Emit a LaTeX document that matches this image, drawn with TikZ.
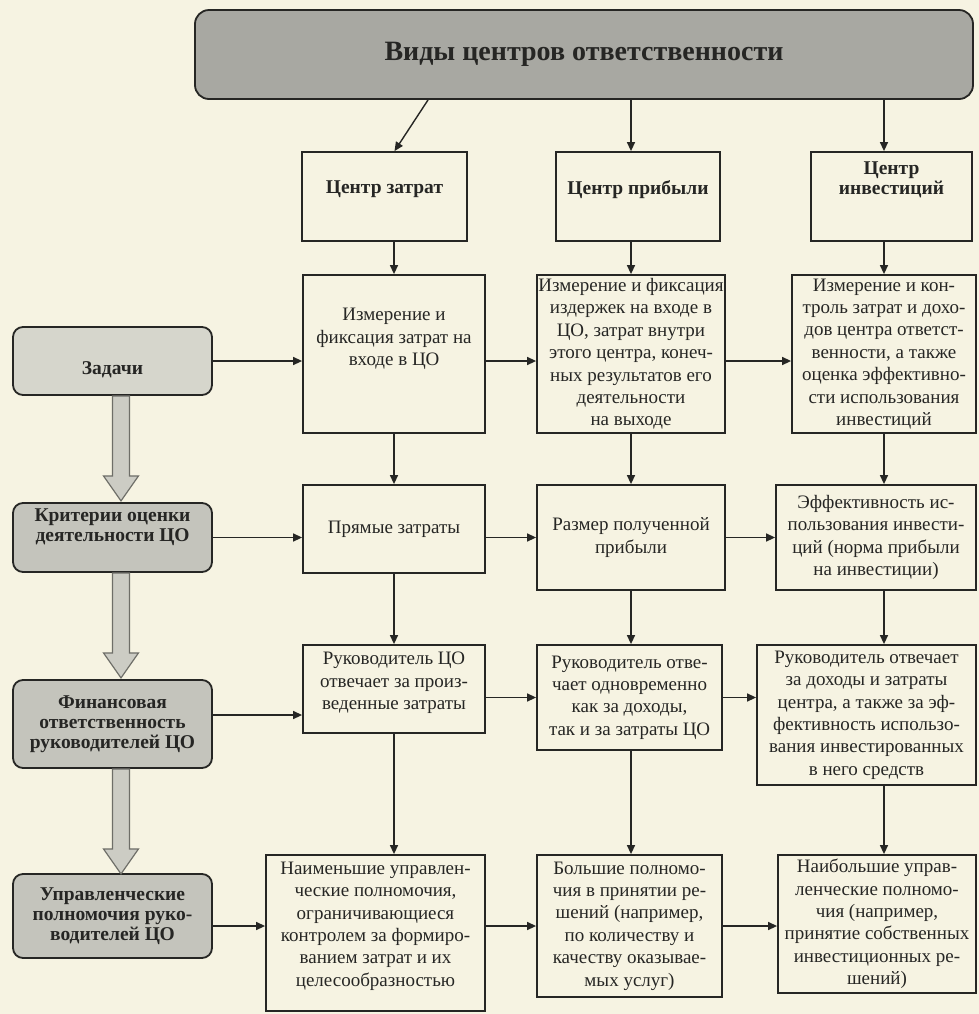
\documentclass[tikz,border=0pt]{standalone}
\usepackage{fontspec}
\setmainfont{Liberation Serif}
\usetikzlibrary{calc,arrows.meta}
\definecolor{paper}{RGB}{246,243,226}
\definecolor{ink}{RGB}{38,38,36}
\definecolor{titlegray}{RGB}{168,168,162}
\definecolor{sidegray}{RGB}{196,196,188}
\definecolor{sidelight}{RGB}{214,214,204}
\definecolor{arrowgray}{RGB}{204,204,196}
\definecolor{arrowedge}{RGB}{110,110,104}
\begin{document}
\begin{tikzpicture}[x=0.5pt,y=-0.5pt,
	  corners/.style n args={4}{at={({(#1+#3)/2},{(#2+#4)/2})}, minimum width={(#3-#1)*0.5pt}, minimum height={(#4-#2)*0.5pt}},
	  box/.style={draw=ink, line width=0.9pt, inner sep=0pt, align=center, text=ink, font=\fontsize{9.5pt}{11.2pt}\selectfont},
	  headbox/.style={box, font=\fontsize{9.75pt}{10pt}\selectfont\bfseries},
	  sidebox/.style={headbox, rounded corners=5pt, fill=sidegray},
	  arr/.style={draw=ink, line width=0.7pt, -{Triangle[length=4.5pt,width=4pt]}},
	  blockarr/.style={draw=arrowedge, fill=arrowgray, line width=0.6pt}]
	  \fill[paper] (0,0) rectangle (979,1014);

	  \node[headbox, fill=titlegray, rounded corners=7pt, font=\fontsize{14pt}{16pt}\selectfont\bfseries, corners={195}{10}{973}{99}] (vid) {Виды центров ответственности};

	  \node[headbox, text depth=9pt, corners={302}{152}{467}{241}] (zatr) {Центр затрат};
	  \node[headbox, text depth=9pt, corners={556}{152}{720}{241}] (prib) {Центр прибыли};
	  \node[headbox, text depth=18pt, corners={811}{152}{972}{241}] (inv) {Центр\\инвестиций};

	  \node[box, text depth=17pt, corners={303}{275}{485}{433}] (izm1) {Измерение и\\фиксация затрат на\\входе в ЦО};
	  \node[box, corners={537}{275}{725}{433}] (izm2) {Измерение и фиксация\\издержек на входе в\\ЦО, затрат внутри\\этого центра, конеч-\\ных результатов его\\деятельности\\на выходе};
	  \node[box, corners={792}{275}{976}{433}] (izm3) {Измерение и кон-\\троль затрат и дохо-\\дов центра ответст-\\венности, а также\\оценка эффективно-\\сти использования\\инвестиций};

	  \node[box, corners={303}{485}{485}{573}] (pryam) {Прямые затраты};
	  \node[box, corners={537}{485}{725}{590}] (razm) {Размер полученной\\прибыли};
	  \node[box, corners={776}{485}{976}{590}] (eff) {Эффективность ис-\\пользования инвести-\\ций (норма прибыли\\на инвестиции)};

	  \node[box, text depth=8pt, corners={303}{645}{485}{733}] (ruk1) {Руководитель ЦО\\отвечает за произ-\\веденные затраты};
	  \node[box, corners={537}{645}{722}{750}] (ruk2) {Руководитель отве-\\чает одновременно\\как за доходы,\\так и за затраты ЦО};
	  \node[box, corners={757}{645}{976}{785}] (ruk3) {Руководитель отвечает\\за доходы и затраты\\центра, а также за эф-\\фективность использо-\\вания инвестированных\\в него средств};

	  \node[box, text depth=9pt, corners={266}{855}{485}{1011}] (poln1) {Наименьшие управлен-\\ческие полномочия,\\ограничивающиеся\\контролем за формиро-\\ванием затрат и их\\целесообразностью};
	  \node[box, corners={537}{855}{722}{997}] (poln2) {Большие полномо-\\чия в принятии ре-\\шений (например,\\по количеству и\\качеству оказывае-\\мых услуг)};
	  \node[box, corners={778}{855}{976}{993}] (poln3) {Наибольшие управ-\\ленческие полномо-\\чия (например,\\принятие собственных\\инвестиционных ре-\\шений)};

	  \node[sidebox, fill=sidelight, text height=15pt, corners={13}{327}{212}{395}] (zad) {Задачи};
	  \node[sidebox, text depth=12pt, corners={13}{503}{212}{572}] (krit) {Критерии оценки\\деятельности ЦО};
	  \node[sidebox, corners={13}{680}{212}{768}] (fin) {Финансовая\\ответственность\\руководителей ЦО};
	  \node[sidebox, corners={13}{874}{212}{958}] (upr) {Управленческие\\полномочия руко-\\водителей ЦО};
	  \coordinate (finout) at ($(fin.east)+(0,-9)$);

	  \draw[blockarr] (zad.south) -- ++(0,80) -- ++(-9,0) -- ++(17.5,25) -- ++(17.5,-25) -- ++(-9,0) -- ++(0,-80) -- cycle;
	  \draw[blockarr] (krit.south) -- ++(0,80) -- ++(-9,0) -- ++(17.5,25) -- ++(17.5,-25) -- ++(-9,0) -- ++(0,-80) -- cycle;
	  \draw[blockarr] (fin.south) -- ++(0,80) -- ++(-9,0) -- ++(17.5,25) -- ++(17.5,-25) -- ++(-9,0) -- ++(0,-80) -- cycle;

	  \draw[arr] ($(vid.south west)!0.3!(vid.south east)$) -- ([xshift=5pt]zatr.north);
	  \draw[arr] (vid.south -| izm2.north) -- (prib.north -| izm2.north);
	  \draw[arr] (vid.south -| izm3.north) -- (inv.north -| izm3.north);

	  \draw[arr] (zatr.south -| izm1.north) -- (izm1.north);
	  \draw[arr] (izm1.south) -- (pryam.north);
	  \draw[arr] (pryam.south) -- (ruk1.north);
	  \draw[arr] (ruk1.south) -- (ruk1.south |- poln1.north);

	  \draw[arr] (prib.south -| izm2.north) -- (izm2.north);
	  \draw[arr] (izm2.south) -- (razm.north);
	  \draw[arr] (razm.south) -- (razm.south |- ruk2.north);
	  \draw[arr] (ruk2.south -| razm.south) -- (razm.south |- poln2.north);

	  \draw[arr] (inv.south -| izm3.north) -- (izm3.north);
	  \draw[arr] (izm3.south) -- (izm3.south |- eff.north);
	  \draw[arr] (eff.south -| izm3.south) -- (izm3.south |- ruk3.north);
	  \draw[arr] (ruk3.south -| izm3.south) -- (izm3.south |- poln3.north);

	  \draw[arr] (zad.east) -- (zad.east -| izm1.west);
	  \draw[arr] (izm1.east |- zad.east) -- (izm2.west |- zad.east);
	  \draw[arr] (izm2.east |- zad.east) -- (izm3.west |- zad.east);

	  \draw[arr] (krit.east) -- (krit.east -| pryam.west);
	  \draw[arr] (pryam.east |- krit.east) -- (razm.west |- krit.east);
	  \draw[arr] (razm.east |- krit.east) -- (eff.west |- krit.east);

	  \draw[arr] (finout) -- (finout -| ruk1.west);
	  \draw[arr] (ruk1.east |- ruk2.west) -- (ruk2.west);
	  \draw[arr] (ruk2.east) -- (ruk2.east -| ruk3.west);

	  \draw[arr] (upr.east |- poln2.west) -- (poln1.west |- poln2.west);
	  \draw[arr] (poln1.east |- poln2.west) -- (poln2.west);
	  \draw[arr] (poln2.east) -- (poln2.east -| poln3.west);
	\end{tikzpicture}
\end{document}
